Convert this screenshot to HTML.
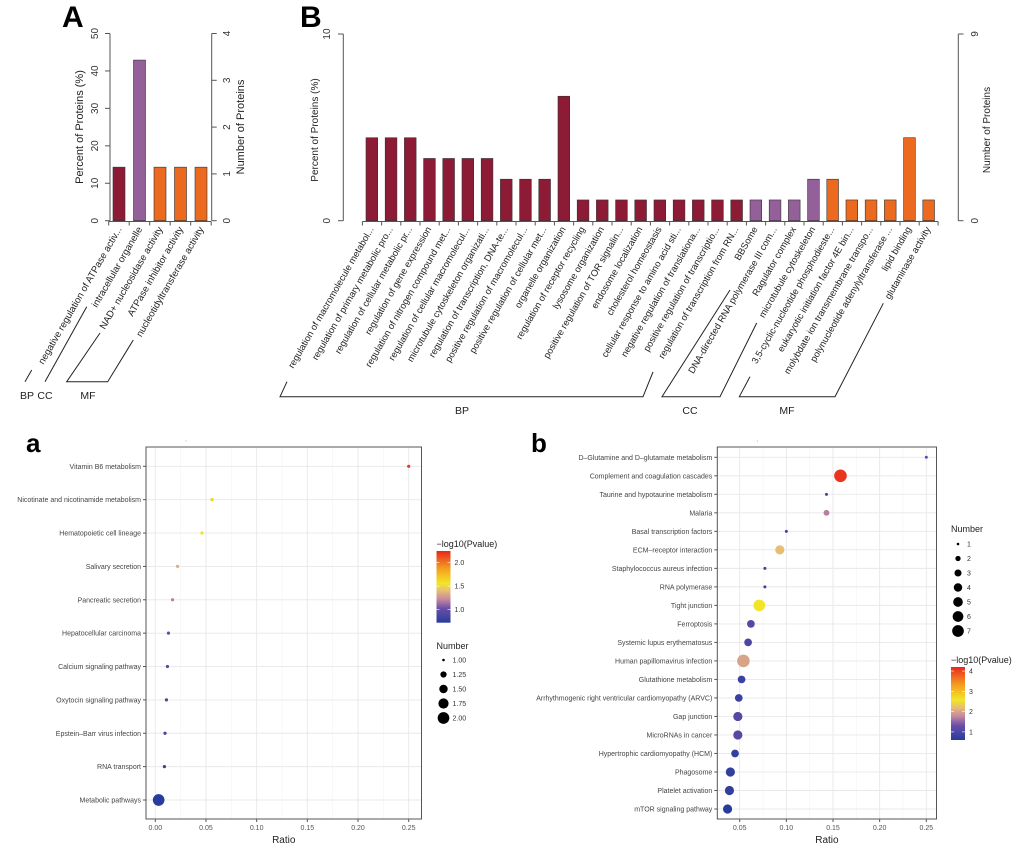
<!DOCTYPE html>
<html><head><meta charset="utf-8"><style>
html,body{margin:0;padding:0;background:#fff;}
svg{display:block;font-family:"Liberation Sans",Arial,sans-serif;}
</style></head><body>
<svg id="fig" width="1020" height="848" viewBox="0 0 1020 848" xmlns="http://www.w3.org/2000/svg">
<defs>
<linearGradient id="cgrad" x1="0" y1="1" x2="0" y2="0">
<stop offset="0" stop-color="#283c9c"/><stop offset="0.2" stop-color="#6a4fa8"/><stop offset="0.33" stop-color="#c88aa0"/><stop offset="0.45" stop-color="#e8c070"/><stop offset="0.55" stop-color="#f2e626"/><stop offset="0.75" stop-color="#f5a020"/><stop offset="1" stop-color="#e8281e"/>
</linearGradient>
</defs>
<rect width="1020" height="848" fill="#fff"/>
<text x="62" y="27" font-size="30" font-weight="bold">A</text>
<text x="300" y="27" font-size="30" font-weight="bold">B</text>
<text x="26" y="452" font-size="26" font-weight="bold">a</text>
<text x="531" y="452" font-size="26" font-weight="bold">b</text>
</svg>
<script>
// ---- Panel A data ----
const aCats = ['negative regulation of ATPase activ...','intracellular organelle','NAD+ nucleosidase activity','ATPase inhibitor activity','nucleotidyltransferase activity'];
const aPct = [14.3, 42.9, 14.3, 14.3, 14.3];
const aGroup = ['BP','CC','MF','MF','MF'];
const aLeftTicks = [0,10,20,30,40,50];
const aRightTicks = [0,1,2,3,4];
// ---- Panel B data ----
const bCats = ['regulation of macromolecule metabol...','regulation of primary metabolic pro...','regulation of cellular metabolic pr...','regulation of gene expression','regulation of nitrogen compound met...','regulation of cellular macromolecul...','microtubule cytoskeleton organizati...','regulation of transcription, DNA-te...','positive regulation of macromolecul...','positive regulation of cellular met...','organelle organization','regulation of receptor recycling','lysosome organization','positive regulation of TOR signalin...','endosome localization','cholesterol homeostasis','cellular response to amino acid sti...','negative regulation of translationa...','positive regulation of transcriptio...','regulation of transcription from RN...','BBSome','DNA-directed RNA polymerase III com...','Ragulator complex','microtubule cytoskeleton','3,5-cyclic-nucleotide phosphodieste...','eukaryotic initiation factor 4E bin...','molybdate ion transmembrane transpo...','polynucleotide adenylyltransferase ...','lipid binding','glutaminase activity'];
const bCounts = [4,4,4,3,3,3,3,2,2,2,6,1,1,1,1,1,1,1,1,1, 1,1,1,2, 2,1,1,1,4,1];
const bGroup = ['BP','BP','BP','BP','BP','BP','BP','BP','BP','BP','BP','BP','BP','BP','BP','BP','BP','BP','BP','BP','CC','CC','CC','CC','MF','MF','MF','MF','MF','MF'];
// ---- Panel a data ----
const kaCats = ['Vitamin B6 metabolism','Nicotinate and nicotinamide metabolism','Hematopoietic cell lineage','Salivary secretion','Pancreatic secretion','Hepatocellular carcinoma','Calcium signaling pathway','Oxytocin signaling pathway','Epstein\u2013Barr virus infection','RNA transport','Metabolic pathways'];
const kaRatio = [0.25,0.056,0.046,0.022,0.017,0.013,0.012,0.011,0.0096,0.009,0.0033];
const kaNum = [1,1,1,1,1,1,1,1,1,1,2];
const kaP = [2.2,1.65,1.55,1.35,1.2,1.0,0.95,0.9,0.85,0.8,0.72];
const kaXTicks = [0,0.05,0.10,0.15,0.20,0.25];
const kaSizeLegend = [1.00,1.25,1.50,1.75,2.00];
const kaColorTicks = [1.0,1.5,2.0];
// ---- Panel b data ----
const kbCats = ['D\u2013Glutamine and D\u2013glutamate metabolism','Complement and coagulation cascades','Taurine and hypotaurine metabolism','Malaria','Basal transcription factors','ECM\u2013receptor interaction','Staphylococcus aureus infection','RNA polymerase','Tight junction','Ferroptosis','Systemic lupus erythematosus','Human papillomavirus infection','Glutathione metabolism','Arrhythmogenic right ventricular cardiomyopathy (ARVC)','Gap junction','MicroRNAs in cancer','Hypertrophic cardiomyopathy (HCM)','Phagosome','Platelet activation','mTOR signaling pathway'];
const kbRatio = [0.25,0.158,0.143,0.143,0.100,0.093,0.077,0.077,0.071,0.062,0.059,0.054,0.052,0.049,0.048,0.048,0.045,0.040,0.039,0.037];
const kbNum = [1,7,1,2,1,4,1,1,6,3,3,7,3,3,4,4,3,4,4,4];
const kbP = [1.2,4.1,0.9,1.7,0.9,2.2,0.8,0.8,2.6,1.1,1.0,2.0,0.8,0.8,1.1,1.1,0.7,0.7,0.7,0.6];
const kbXTicks = [0.05,0.10,0.15,0.20,0.25];
const kbSizeLegend = [1,2,3,4,5,6,7];
const kbColorTicks = [1,2,3,4];

const NS='http://www.w3.org/2000/svg';
const svg=document.getElementById('fig');
function mk(tag,attrs,parent){const e=document.createElementNS(NS,tag);for(const k in attrs)e.setAttribute(k,attrs[k]);(parent||svg).appendChild(e);return e;}
function tx(s,attrs,parent){const e=mk('text',attrs,parent);e.textContent=s;return e;}
const GCOL={BP:'#8e1b35',CC:'#94609a',MF:'#ec6a1f'};
const stops=[[0,[40,60,156]],[0.2,[106,79,168]],[0.33,[200,138,160]],[0.45,[232,192,112]],[0.55,[242,230,38]],[0.75,[245,160,32]],[1,[232,40,30]]];
function cmap(t){t=Math.max(0,Math.min(1,t));for(let i=1;i<stops.length;i++){if(t<=stops[i][0]){const a=stops[i-1],b=stops[i];const f=(t-a[0])/(b[0]-a[0]);const c=a[1].map((v,j)=>Math.round(v+(b[1][j]-v)*f));return 'rgb('+c.join(',')+')';}}return 'rgb(232,40,30)';}

// ================= Panel A =================
const gA=mk('g',{});


const yA=v=>220.7-v/50*187.2;
const xA=i=>113+i*20.5;
const yAr=v=>220.7-v/4*187.2;
let l=mk('line',{x1:110,y1:yA(0),x2:110,y2:yA(50),stroke:'#555','stroke-width':1},gA);


aLeftTicks.forEach(v=>{mk('line',{x1:105,y1:yA(v),x2:110,y2:yA(v),stroke:'#555'},gA);
 const t=tx(String(v),{transform:`translate(98,${yA(v)}) rotate(-90)`,'text-anchor':'middle','font-size':10,fill:'#333'},gA);
 
 });
l=mk('line',{x1:211.7,y1:yAr(0),x2:211.7,y2:yAr(4),stroke:'#555'},gA);


aRightTicks.forEach(v=>{mk('line',{x1:211.7,y1:yAr(v),x2:216.7,y2:yAr(v),stroke:'#555'},gA);
 const t=tx(String(v),{transform:`translate(230,${yAr(v)}) rotate(-90)`,'text-anchor':'middle','font-size':10,fill:'#333'},gA);
 
 });
let t=tx('Percent of Proteins (%)',{transform:'translate(83,127) rotate(-90)','text-anchor':'middle','font-size':11,fill:'#222'},gA);


t=tx('Number of Proteins',{transform:'translate(244,127) rotate(-90)','text-anchor':'middle','font-size':11,fill:'#222'},gA);


mk('line',{x1:xA(0)-4.5,y1:221.5,x2:xA(aCats.length-1)+16,y2:221.5,stroke:'#555'},gA);
for(let i=0;i<=aCats.length;i++){const x=(i<aCats.length?xA(i)-4.3:xA(i-1)+16.2);mk('line',{x1:x,y1:221.5,x2:x,y2:225.5,stroke:'#555'},gA);}
aCats.forEach((c,i)=>{
 const r=mk('rect',{x:xA(i),y:yA(aPct[i]),width:12,height:yA(0)-yA(aPct[i]),fill:GCOL[aGroup[i]],stroke:'#333','stroke-width':0.6},gA);
 
 
 const lb=tx(c,{transform:`translate(${xA(i)+9},229) rotate(-60)`,'text-anchor':'end','font-size':9.6,fill:'#222'},gA);
 
 
});
// brackets A
mk('polyline',{points:'25,381.7 31.7,370',fill:'none',stroke:'#222'},gA);
mk('polyline',{points:'45,381.7 86.7,306.7',fill:'none',stroke:'#222'},gA);
mk('polyline',{points:'100,333 66.7,381.7 107.7,381.7 133.3,340',fill:'none',stroke:'#222'},gA);
[['BP',27],['CC',45],['MF',88]].forEach(([s,x])=>{const g=tx(s,{x:x,y:399,'text-anchor':'middle','font-size':10.5,fill:'#222'},gA);
 
 });

// ================= Panel B =================
const gB=mk('g',{});


const xB=i=>366+i*19.2;
const yB=c=>220.7-c/9*186.7;
const yBp=v=>220.7-v/10*186.7;
mk('line',{x1:343.3,y1:yBp(0),x2:343.3,y2:yBp(10),stroke:'#555'},gB);
[0,10].forEach(v=>{mk('line',{x1:338,y1:yBp(v),x2:343.3,y2:yBp(v),stroke:'#555'},gB);
 const k=tx(String(v),{transform:`translate(330,${yBp(v)}) rotate(-90)`,'text-anchor':'middle','font-size':10,fill:'#333'},gB);
 
 });
mk('line',{x1:958.3,y1:yB(0),x2:958.3,y2:yB(9),stroke:'#555'},gB);
[0,9].forEach(v=>{mk('line',{x1:958.3,y1:yB(v),x2:963.5,y2:yB(v),stroke:'#555'},gB);
 const k=tx(String(v),{transform:`translate(978,${yB(v)}) rotate(-90)`,'text-anchor':'middle','font-size':10,fill:'#333'},gB);
 
 });
t=tx('Percent of Proteins (%)',{transform:'translate(318,130) rotate(-90)','text-anchor':'middle','font-size':10,fill:'#222'},gB);


t=tx('Number of Proteins',{transform:'translate(990,130) rotate(-90)','text-anchor':'middle','font-size':10,fill:'#222'},gB);


mk('line',{x1:xB(0)-3.6,y1:221.5,x2:xB(bCats.length-1)+15.3,y2:221.5,stroke:'#555'},gB);
for(let i=0;i<=bCats.length;i++){const x=(i<bCats.length?xB(i)-3.6:xB(i-1)+15.3);mk('line',{x1:x,y1:221.5,x2:x,y2:225.5,stroke:'#555'},gB);}
bCats.forEach((c,i)=>{
 const r=mk('rect',{x:xB(i),y:yB(bCounts[i]),width:11.7,height:yB(0)-yB(bCounts[i]),fill:GCOL[bGroup[i]],stroke:'#333','stroke-width':0.6},gB);
 
 
 const lb=tx(c,{transform:`translate(${xB(i)+8},229) rotate(-60)`,'text-anchor':'end','font-size':9.4,fill:'#222'},gB);
 
 
});
mk('polyline',{points:'287,381.7 280,396.7 643,396.7 653,372',fill:'none',stroke:'#222'},gB);
mk('polyline',{points:'730,290 662,396.7 720,396.7 756.7,323',fill:'none',stroke:'#222'},gB);
mk('polyline',{points:'750,376.7 739.3,396.7 835,396.7 883.3,303.3',fill:'none',stroke:'#222'},gB);
[['BP',462],['CC',690],['MF',787]].forEach(([s,x])=>{const g=tx(s,{x:x,y:414,'text-anchor':'middle','font-size':10.5,fill:'#222'},gB);
 
 });

// ================= Dot plots =================
function dotPlot(o){
 const g=mk('g',{});
 
 
 const X=v=>o.x0+(v-o.v0)*o.k;
 const n=o.cats.length;
 const Y=i=>o.yFirst+i*(o.yLast-o.yFirst)/(n-1);
 mk('rect',{x:o.fl,y:o.ft,width:o.fr-o.fl,height:o.fb-o.ft,fill:'#fff'},g);
 // minor grid
 for(let i=0;i<o.ticks.length;i++){const m=o.ticks[i]-0.025;if(X(m)>o.fl)mk('line',{x1:X(m),y1:o.ft,x2:X(m),y2:o.fb,stroke:'#f3f3f3','stroke-width':0.6},g);}
 const last=o.ticks[o.ticks.length-1]+0.025;if(X(last)<o.fr)mk('line',{x1:X(last),y1:o.ft,x2:X(last),y2:o.fb,stroke:'#f3f3f3','stroke-width':0.6},g);
 o.ticks.forEach(v=>{mk('line',{x1:X(v),y1:o.ft,x2:X(v),y2:o.fb,stroke:'#e8e8e8','stroke-width':0.9},g);
  mk('line',{x1:X(v),y1:o.fb,x2:X(v),y2:o.fb+3,stroke:'#555'},g);
  const k=tx(v.toFixed(2),{x:X(v),y:o.fb+11,'text-anchor':'middle','font-size':7,fill:'#555'},g);
  
  });
 o.cats.forEach((c,i)=>{mk('line',{x1:o.fl,y1:Y(i),x2:o.fr,y2:Y(i),stroke:'#e8e8e8','stroke-width':0.9},g);
  mk('line',{x1:o.fl-3,y1:Y(i),x2:o.fl,y2:Y(i),stroke:'#555'},g);
  const k=tx(c,{x:o.fl-5,y:Y(i)+2.5,'text-anchor':'end','font-size':7,fill:'#444'},g);
  
  });
 mk('rect',{x:o.fl,y:o.ft,width:o.fr-o.fl,height:o.fb-o.ft,fill:'none',stroke:'#555','stroke-width':1},g);
 mk('circle',{cx:(o.fl+o.fr)/2-0.5*(o.fr-o.fl)+ (o.dotX||0),cy:o.ft-6,r:0.5,fill:'#999'},g);
 o.cats.forEach((c,i)=>{
  const d=mk('circle',{cx:X(o.ratio[i]),cy:Y(i),r:o.rad(o.num[i]),fill:cmap((o.p[i]-o.pmin)/(o.pmax-o.pmin))},g);
  
  
 });
 const rt=tx('Ratio',{x:(o.fl+o.fr)/2,y:o.fb+24,'text-anchor':'middle','font-size':10,fill:'#222'},g);
 
 
 // color legend
 const ct=tx('\u2212log10(Pvalue)',{x:o.cbx,y:o.cbTitleY,'font-size':9,fill:'#222'},g);
 
 
 const cb=mk('rect',{x:o.cbx,y:o.cbTop,width:14,height:o.cbBot-o.cbTop,fill:'url(#cgrad)'},g);
 
 
 const CY=v=>o.cbBot-(v-o.pmin)/(o.pmax-o.pmin)*(o.cbBot-o.cbTop);
 o.cticks.forEach(v=>{mk('line',{x1:o.cbx,y1:CY(v),x2:o.cbx+3,y2:CY(v),stroke:'#fff','stroke-width':0.6},g);mk('line',{x1:o.cbx+11,y1:CY(v),x2:o.cbx+14,y2:CY(v),stroke:'#fff','stroke-width':0.6},g);
  const k=tx(o.cfmt(v),{x:o.cbx+18,y:CY(v)+2.5,'font-size':7,fill:'#333'},g);
  
  });
 const nt=tx('Number',{x:o.cbx,y:o.nTitleY,'font-size':9,fill:'#222'},g);
 
 
 o.sizes.forEach((s,i)=>{const y=o.nFirstY+i*o.nStep;
  const d=mk('circle',{cx:o.cbx+7,cy:y,r:o.legRad(s),fill:'#000'},g);
  
  
  const k=tx(o.sfmt(s),{x:o.cbx+16,y:y+2.5,'font-size':7,fill:'#333'},g);
  
  });
}
dotPlot({name:'panel-a-kegg-dotplot',cats:kaCats,ratio:kaRatio,num:kaNum,p:kaP,ticks:kaXTicks,
 x0:155.3,v0:0,k:1013.6,fl:146,fr:421.5,ft:447,fb:819,yFirst:466.3,yLast:800,
 rad:n=>Math.sqrt(2.6+(n-1)*(34-2.6)),pmin:0.72,pmax:2.25,
 cbx:436.5,cbTitleY:547,cbTop:551,cbBot:622.7,cticks:kaColorTicks,cfmt:v=>v.toFixed(1),
 nTitleY:649,nFirstY:660,nStep:14.5,sizes:kaSizeLegend,legRad:s=>Math.sqrt(1.7+(s-1)*(34-1.7)),sfmt:s=>s.toFixed(2),dotX:40});
dotPlot({name:'panel-b-kegg-dotplot',cats:kbCats,ratio:kbRatio,num:kbNum,p:kbP,ticks:kbXTicks,
 x0:739.7,v0:0.05,k:933,fl:717.3,fr:936.5,ft:447,fb:819,yFirst:457.3,yLast:809,
 rad:n=>Math.sqrt(2.25+(n-1)/6*(40-2.25)),pmin:0.6,pmax:4.2,
 cbx:951,cbTitleY:663,cbTop:667,cbBot:740,cticks:kbColorTicks,cfmt:v=>String(v),
 nTitleY:532,nFirstY:544,nStep:14.5,sizes:kbSizeLegend,legRad:s=>Math.sqrt(1.7+(s-1)/6*(34-1.7)),sfmt:s=>String(s),dotX:40});
</script>
</body></html>
